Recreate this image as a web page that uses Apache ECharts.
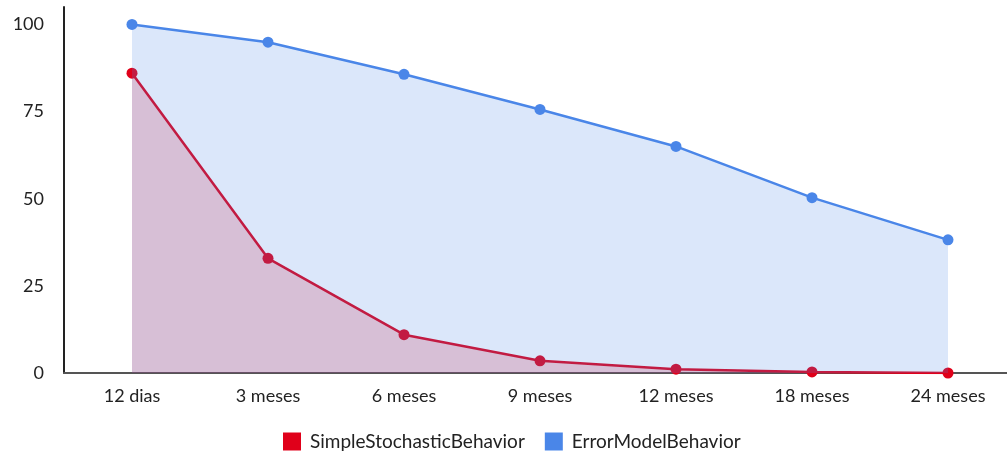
<!DOCTYPE html>
<html>
<head>
<meta charset="utf-8">
<script src="https://cdn.jsdelivr.net/npm/echarts@6/dist/echarts.min.js"></script>
<style>
  html, body { margin: 0; padding: 0; background: #ffffff; }
  #chart { width: 1007px; height: 454px; }
</style>
</head>
<body>
<div id="chart"></div>
<script>
// Periods on the horizontal axis
const periods = ['12 dias', '3 meses', '6 meses', '9 meses', '12 meses', '18 meses', '24 meses'];
// Percentage remaining for each behaviour model
const simpleStochastic = [86, 32.9, 11, 3.5, 1.1, 0.3, 0];
const errorModel = [100, 94.9, 85.7, 75.6, 65, 50.3, 38.2];
const seriesNames = ['SimpleStochasticBehavior', 'ErrorModelBehavior'];
const yTicks = [0, 25, 50, 75, 100];

const RED = '#e0001a';
const BLUE = '#4a86e8';
const FONT = 'Lato';

const chart = echarts.init(document.getElementById('chart'), null, { renderer: 'canvas' });

chart.setOption({
  animation: false,
  textStyle: { fontFamily: FONT },
  // plot area runs a little past the right edge of the canvas
  grid: { left: 64, width: 952, top: 7, bottom: 81, outerBoundsMode: 'none', containLabel: false },
  legend: {
    top: 432,
    left: 283,
    padding: 0,
    itemWidth: 18,
    itemHeight: 18,
    itemGap: 20,
    icon: 'rect',
    textStyle: { fontFamily: FONT, fontSize: 19, color: '#222', padding: [0, 0, 0, 4] },
    data: seriesNames
  },
  xAxis: {
    type: 'category',
    data: periods,
    boundaryGap: true,
    axisLine: { show: true, lineStyle: { color: '#555', width: 2 } },
    axisTick: { show: false },
    axisLabel: { fontFamily: FONT, fontSize: 18, color: '#222', margin: 14 },
    splitLine: { show: false }
  },
  yAxis: {
    type: 'value',
    min: 0,
    max: 105,
    interval: 25,
    axisLine: { show: true, lineStyle: { color: '#222', width: 2 } },
    axisTick: { show: false },
    splitLine: { show: false },
    axisLabel: {
      fontFamily: FONT, fontSize: 18, color: '#222', margin: 20,
      showMaxLabel: false,
      formatter: v => (yTicks.indexOf(v) >= 0 ? String(v) : '')
    }
  },
  series: [
    {
      name: seriesNames[0],
      type: 'line',
      z: 1,
      data: simpleStochastic,
      color: RED,
      symbol: 'circle',
      symbolSize: 11,
      lineStyle: { width: 2.5, color: RED },
      itemStyle: { color: RED },
      areaStyle: { color: RED, opacity: 0.2 }
    },
    {
      name: seriesNames[1],
      type: 'line',
      z: 3,
      data: errorModel,
      color: BLUE,
      symbol: 'circle',
      symbolSize: 11,
      lineStyle: { width: 2.5, color: BLUE },
      itemStyle: { color: BLUE },
      areaStyle: { color: BLUE, opacity: 0.2 }
    }
  ]
});
</script>
</body>
</html>
